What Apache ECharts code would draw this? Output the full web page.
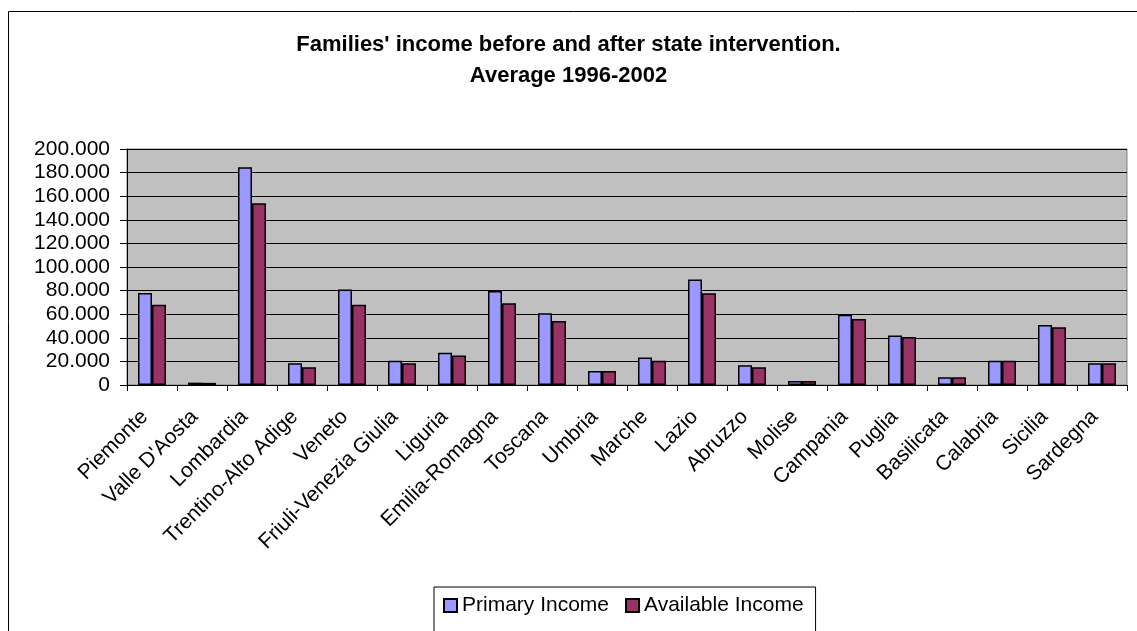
<!DOCTYPE html>
<html>
<head>
<meta charset="utf-8">
<script src="https://cdn.jsdelivr.net/npm/echarts@6/dist/echarts.min.js"></script>
<style>
html,body{margin:0;padding:0;background:#fff;}
#chart{width:1137px;height:631px;}
</style>
</head>
<body>
<div id="chart"></div>
<script>
const categories = ["Piemonte","Valle D'Aosta","Lombardia","Trentino-Alto Adige","Veneto","Friuli-Venezia Giulia","Liguria","Emilia-Romagna","Toscana","Umbria","Marche","Lazio","Abruzzo","Molise","Campania","Puglia","Basilicata","Calabria","Sicilia","Sardegna"];
const primaryIncome = [78000, 2000, 184500, 18400, 81000, 20600, 27400, 79700, 60700, 11900, 23400, 89500, 16700, 3400, 59600, 42000, 6500, 20600, 50800, 18400];
const availableIncome = [68000, 1800, 154000, 15000, 68000, 18400, 25000, 69200, 54200, 11900, 20600, 77700, 15000, 3400, 55900, 40700, 6500, 20600, 48900, 18400];
const yTicks = {min: 0, max: 200000, interval: 20000};
const seriesNames = ["Primary Income", "Available Income"];
const titleLines = ["Families' income before and after state intervention.", "Average 1996-2002"];

const FONT = "'Liberation Sans', Arial, sans-serif";
const chart = echarts.init(document.getElementById('chart'), null, {renderer: 'canvas'});

function fmt(v) {
  if (v === 0) return '0';
  const s = String(Math.round(v));
  return s.replace(/\B(?=(\d{3})+(?!\d))/g, '.');
}

const titleStyle = {fontFamily: FONT, fontSize: 22, fontWeight: 'bold', color: '#000', lineHeight: 22};

chart.setOption({
  backgroundColor: '#ffffff',
  animation: false,
  textStyle: {fontFamily: FONT},
  graphic: [{
    type: 'rect',
    shape: {x: 8.5, y: 11.5, width: 1300, height: 800},
    style: {fill: 'none', stroke: '#000', lineWidth: 1},
    silent: true, z: -1
  }],
  title: [
    {text: titleLines[0], left: 'center', top: 34, padding: 0, textStyle: titleStyle},
    {text: titleLines[1], left: 'center', top: 65, padding: 0, textStyle: titleStyle}
  ],
  legend: {
    data: seriesNames,
    left: 434,
    top: 587,
    padding: [8, 12, 40, 9],
    itemGap: 16,
    itemWidth: 13,
    itemHeight: 13,
    borderColor: '#000',
    borderWidth: 1,
    icon: 'rect',
    textStyle: {fontFamily: FONT, fontSize: 21, color: '#000'}
  },
  grid: {
    left: 127, right: 10, top: 149, bottom: 246,
    show: true,
    backgroundColor: '#C0C0C0',
    borderColor: '#808080',
    borderWidth: 1,
    containLabel: false
  },
  xAxis: {
    type: 'category',
    data: categories,
    boundaryGap: true,
    axisLine: {lineStyle: {color: '#000', width: 1}},
    axisTick: {show: true, length: 6, alignWithLabel: false, lineStyle: {color: '#000'}},
    axisLabel: {rotate: 45, interval: 0, margin: 36, verticalAlign: 'bottom', fontFamily: FONT, fontSize: 21, color: '#000'}
  },
  yAxis: {
    type: 'value',
    min: yTicks.min,
    max: yTicks.max,
    interval: yTicks.interval,
    axisLine: {show: true, lineStyle: {color: '#000', width: 1}},
    axisTick: {show: true, length: 7, lineStyle: {color: '#000'}},
    axisLabel: {margin: 17, fontFamily: FONT, fontSize: 21, color: '#000', formatter: fmt},
    splitLine: {show: true, lineStyle: {color: '#000', width: 1}}
  },
  series: [
    {
      name: seriesNames[0], type: 'bar', data: primaryIncome,
      barWidth: 14, barGap: '0%',
      itemStyle: {color: '#9999FF', borderColor: '#000', borderWidth: 1.5}
    },
    {
      name: seriesNames[1], type: 'bar', data: availableIncome,
      barWidth: 14, barGap: '0%',
      itemStyle: {color: '#993366', borderColor: '#000', borderWidth: 1.5}
    }
  ]
});
</script>
</body>
</html>
